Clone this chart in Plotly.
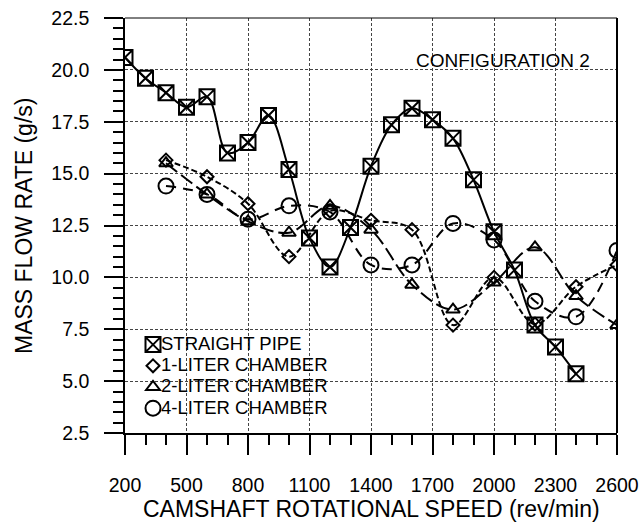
import plotly.graph_objects as go

# ---- data ----
sp_x = [200, 300, 400, 500, 600, 700, 800, 900, 1000, 1100, 1200, 1300,
        1400, 1500, 1600, 1700, 1800, 1900, 2000, 2100, 2200, 2300, 2400]
sp_y = [20.6, 19.6, 18.9, 18.2, 18.7, 16.0, 16.5, 17.8, 15.2, 11.9, 10.5, 12.4,
        15.35, 17.35, 18.15, 17.6, 16.7, 14.7, 12.2, 10.35, 7.7, 6.65, 5.35]

ch1_x = [400, 600, 800, 1000, 1200, 1400, 1600, 1800, 2000, 2200, 2400, 2600]
ch1_y = [15.65, 14.85, 13.55, 11.0, 13.2, 12.75, 12.3, 7.7, 10.0, 7.75, 9.55, 10.6]

ch2_x = [400, 600, 800, 1000, 1200, 1400, 1600, 1800, 2000, 2200, 2400, 2600]
ch2_y = [15.5, 14.0, 12.7, 12.15, 13.45, 12.3, 9.65, 8.45, 9.75, 11.45, 9.1, 7.7]

ch4_x = [400, 600, 800, 1000, 1200, 1400, 1600, 1800, 2000, 2200, 2400, 2600]
ch4_y = [14.4, 14.0, 12.8, 13.45, 13.15, 10.6, 10.6, 12.6, 11.8, 8.85, 8.1, 11.3]

series_names = ["STRAIGHT PIPE", "1-LITER CHAMBER", "2-LITER CHAMBER", "4-LITER CHAMBER"]
x_ticks = [200, 500, 800, 1100, 1400, 1700, 2000, 2300, 2600]
y_ticks = [2.5, 5.0, 7.5, 10.0, 12.5, 15.0, 17.5, 20.0, 22.5]

FONT = "Liberation Sans, Arial, sans-serif"

W, H = 640, 524
L, R, T, B = 125, 23, 18, 91
PW, PH = W - L - R, H - T - B     # plot area 492 x 415


def px_x(p):
    return (p - L) / PW


def px_y(p):
    return (H - B - p) / PH


series = [
    (sp_x, sp_y, "square-x-open", 15, "solid"),
    (ch1_x, ch1_y, "diamond-open", 10, "6px,3px"),
    (ch2_x, ch2_y, "triangle-up-open", 12, "14px,5px"),
    (ch4_x, ch4_y, "circle-open", 15, "10px,7px"),
]

fig = go.Figure()
for (xs, ys, sym, size, dash), name in zip(series, series_names):
    fig.add_trace(go.Scatter(
        x=xs, y=ys, mode="lines", showlegend=False, hoverinfo="skip",
        line=dict(color="black", width=2, dash=dash, shape="spline", smoothing=1.0),
    ))
for i, ((xs, ys, sym, size, dash), name) in enumerate(zip(series, series_names)):
    fig.add_trace(go.Scatter(
        x=xs, y=ys, mode="markers", name=" " * (i + 1),
        marker=dict(symbol=sym, size=size, color="black",
                    line=dict(color="black", width=2)),
    ))

# legend labels sit close to the symbols, as in the reference
legend_rows = [343, 364.3, 385.7, 407]
annotations = [dict(text=name, xref="paper", yref="paper", x=px_x(159), y=px_y(yy),
                    xanchor="left", yanchor="middle", showarrow=False,
                    font=dict(size=18.5, family=FONT))
               for name, yy in zip(series_names, legend_rows)]
annotations += [
    dict(text="CONFIGURATION 2", xref="paper", yref="paper",
         x=px_x(502.5), y=px_y(60), xanchor="center", yanchor="middle",
         showarrow=False, font=dict(size=19, family=FONT)),
    dict(text="CAMSHAFT ROTATIONAL SPEED (rev/min)", xref="paper", yref="paper",
         x=px_x(371), y=px_y(508.5), xanchor="center", yanchor="middle",
         showarrow=False, font=dict(size=23, family=FONT)),
    dict(text="MASS FLOW RATE (g/s)", xref="paper", yref="paper", textangle=-90,
         x=px_x(24), y=px_y(226), xanchor="center", yanchor="middle",
         showarrow=False, font=dict(size=23, family=FONT)),
]

fig.update_layout(
    template="none",
    width=W, height=H,
    margin=dict(l=L, r=R, t=T, b=B, pad=0),
    paper_bgcolor="white", plot_bgcolor="white",
    font=dict(family=FONT, color="black", size=19.5),
    showlegend=True,
    legend=dict(x=px_x(133), y=px_y(329), xanchor="left", yanchor="top",
                bgcolor="rgba(0,0,0,0)", font=dict(size=14, family=FONT),
                itemwidth=30, tracegroupgap=0, borderwidth=0),
    annotations=annotations,
    shapes=[
        dict(type="line", xref="paper", yref="paper", x0=0, x1=1, y0=1, y1=1,
             line=dict(color="black", width=1)),
        dict(type="line", xref="paper", yref="paper", x0=1, x1=1, y0=0, y1=1,
             line=dict(color="black", width=2)),
    ],
)

fig.update_xaxes(
    automargin=False,
    range=[200, 2600], tickvals=x_ticks, ticktext=[str(v) for v in x_ticks],
    ticks="outside", ticklen=20, tickwidth=2, tickcolor="black",
    ticklabelstandoff=14,
    minor=dict(dtick=100, tick0=200, ticks="outside", ticklen=10, tickwidth=2,
               tickcolor="black", showgrid=False),
    showline=True, linecolor="black", linewidth=2,
    showgrid=True, gridcolor="#444", gridwidth=1, griddash="3px,2px",
    zeroline=False,
    tickfont=dict(size=19.5),
)
fig.update_yaxes(
    automargin=False,
    range=[2.5, 22.5], tickvals=y_ticks,
    # two trailing no-break spaces keep the labels ~11px clear of the ticks
    ticktext=["%.1f\u00a0\u00a0" % v for v in y_ticks],
    ticks="outside", ticklen=19, tickwidth=2, tickcolor="black",
    minor=dict(dtick=0.5, tick0=2.5, ticks="outside", ticklen=10, tickwidth=2,
               tickcolor="black", showgrid=False),
    showline=True, linecolor="black", linewidth=2,
    showgrid=True, gridcolor="#444", gridwidth=1, griddash="3px,2px",
    zeroline=False,
    tickfont=dict(size=19.5),
)

# remove the browser's default 8px page margin so the figure sits at (0, 0)
fig.write_html(
    "out.html",
    config={"displayModeBar": False, "staticPlot": True},
    post_script="document.body.style.margin='0';document.body.style.overflow='hidden';",
)
